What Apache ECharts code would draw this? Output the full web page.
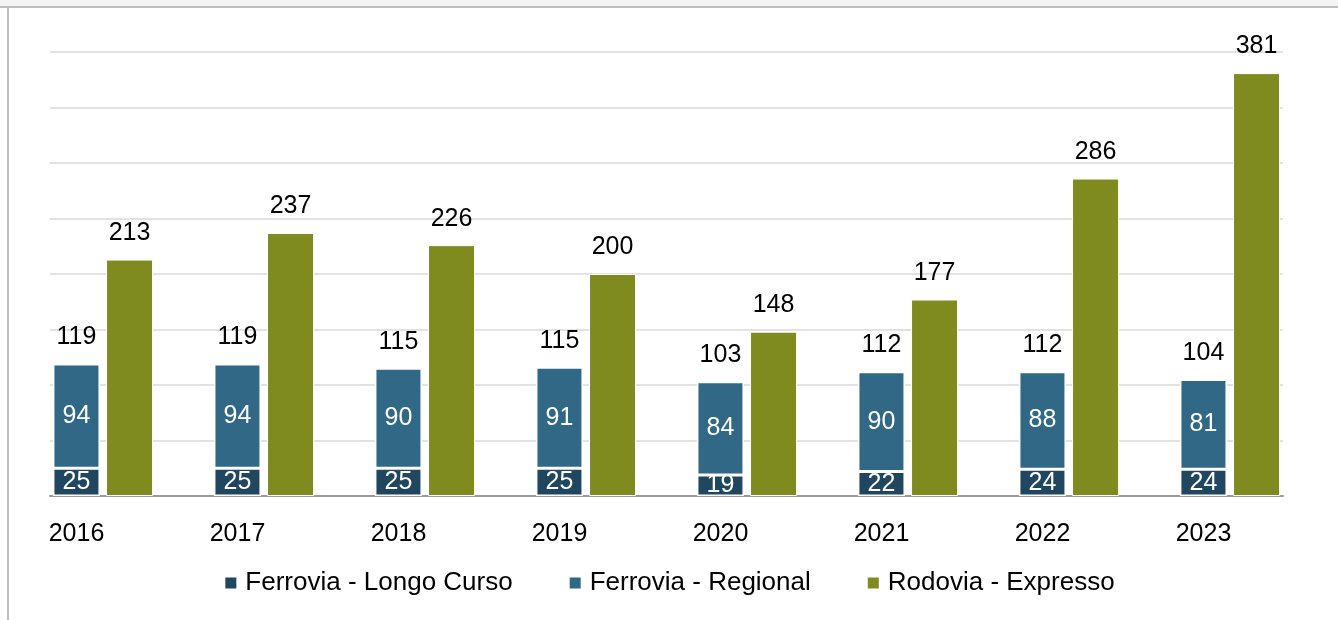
<!DOCTYPE html>
<html>
<head>
<meta charset="utf-8">
<script src="https://cdn.jsdelivr.net/npm/echarts@6/dist/echarts.min.js"></script>
<style>
  html, body { margin: 0; padding: 0; background: #fff; }
  #chart { width: 1338px; height: 620px; }
</style>
</head>
<body>
<div id="chart"></div>
<script>
const years = ['2016', '2017', '2018', '2019', '2020', '2021', '2022', '2023'];
const longoCurso = [25, 25, 25, 25, 19, 22, 24, 24];
const regional = [94, 94, 90, 91, 84, 90, 88, 81];
const ferroviaTotal = [119, 119, 115, 115, 103, 112, 112, 104];
const rodovia = [213, 237, 226, 200, 148, 177, 286, 381];
const yTicks = { min: 0, max: 400, interval: 50 };

const font = 'Liberation Sans, Arial, sans-serif';
const chart = echarts.init(document.getElementById('chart'));

const labelInside = {
  show: true,
  position: 'inside',
  color: '#fff',
  fontSize: 25,
  fontFamily: font,
};

chart.setOption({
  animation: false,
  graphic: [
    { type: 'rect', shape: { x: 0, y: 0, width: 1338, height: 7 }, style: { fill: '#f2f2f2' }, z: 10 },
    { type: 'line', shape: { x1: 0, y1: 7, x2: 1338, y2: 7 }, style: { stroke: '#bdbdbd', lineWidth: 2 }, z: 10 },
    { type: 'line', shape: { x1: 8, y1: 7, x2: 8, y2: 620 }, style: { stroke: '#bdbdbd', lineWidth: 2 }, z: 10 },
  ],
  grid: [
    // gridlines + baseline
    { left: 50, right: 55, top: 52, bottom: 124 },
    // bars
    { left: 22.5, right: 27.5, top: 52, bottom: 124 },
  ],
  xAxis: [
    {
      gridIndex: 0,
      type: 'value',
      min: 0,
      max: 1,
      axisLine: { show: true, onZero: false, lineStyle: { color: '#9a9a9a', width: 2 } },
      axisTick: { show: false },
      axisLabel: { show: false },
      splitLine: { show: false },
    },
    {
      gridIndex: 1,
      type: 'category',
      data: years,
      axisLine: { show: false },
      axisTick: { show: false },
      axisLabel: {
        color: '#000',
        fontSize: 25,
        fontFamily: font,
        margin: 26,
        align: 'center',
        padding: [0, 53, 0, 0],
      },
    },
  ],
  yAxis: [
    {
      gridIndex: 0,
      type: 'value',
      ...yTicks,
      axisLine: { show: false },
      axisTick: { show: false },
      axisLabel: { show: false },
      splitLine: { lineStyle: { color: '#d9d9d9', width: 1.5 } },
    },
    {
      gridIndex: 1,
      type: 'value',
      ...yTicks,
      show: false,
      splitLine: { show: false },
    },
  ],
  legend: {
    data: ['Ferrovia - Longo Curso', 'Ferrovia - Regional', 'Rodovia - Expresso'],
    top: 565,
    left: 'center',
    icon: 'rect',
    itemWidth: 13,
    itemHeight: 13,
    itemGap: 55,
    textStyle: {
      color: '#000',
      fontSize: 26,
      fontFamily: font,
      padding: [0, 0, 0, 3],
    },
  },
  series: [
    {
      name: 'Ferrovia - Longo Curso',
      type: 'bar',
      xAxisIndex: 1,
      yAxisIndex: 1,
      stack: 'ferrovia',
      barWidth: 47,
      barGap: '13%',
      data: longoCurso,
      itemStyle: { color: '#21465f', borderColor: '#fff', borderWidth: 1.5 },
      label: labelInside,
    },
    {
      name: 'Ferrovia - Regional',
      type: 'bar',
      xAxisIndex: 1,
      yAxisIndex: 1,
      stack: 'ferrovia',
      barWidth: 47,
      data: regional,
      itemStyle: { color: '#316886', borderColor: '#fff', borderWidth: 1.5 },
      label: labelInside,
    },
    {
      name: 'Total',
      type: 'bar',
      xAxisIndex: 1,
      yAxisIndex: 1,
      stack: 'ferrovia',
      barWidth: 47,
      data: ferroviaTotal.map(() => 0),
      itemStyle: { color: 'transparent' },
      label: {
        show: true,
        position: 'top',
        distance: 14,
        color: '#000',
        fontSize: 25,
        fontFamily: font,
        formatter: p => ferroviaTotal[p.dataIndex],
      },
    },
    {
      name: 'Rodovia - Expresso',
      type: 'bar',
      xAxisIndex: 1,
      yAxisIndex: 1,
      barWidth: 47,
      barGap: '13%',
      data: rodovia,
      itemStyle: { color: '#7f8a1f', borderColor: '#fff', borderWidth: 1 },
      label: {
        show: true,
        position: 'top',
        distance: 14,
        color: '#000',
        fontSize: 25,
        fontFamily: font,
      },
    },
  ],
});
</script>
</body>
</html>
